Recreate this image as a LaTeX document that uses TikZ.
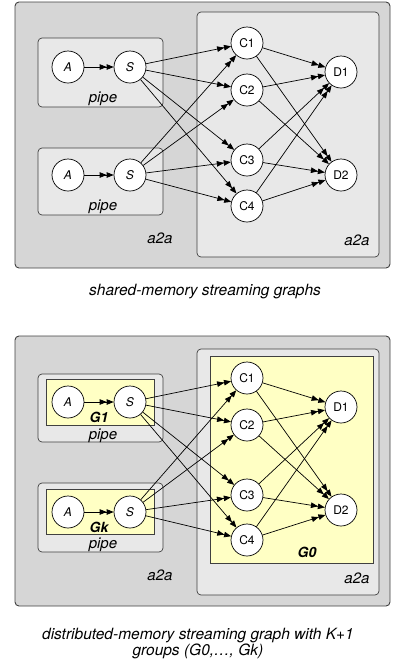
\documentclass[tikz,border=0pt]{standalone}
\usepackage{fontspec}
\setmainfont{TeX Gyre Heros}
\usetikzlibrary{arrows.meta}
\definecolor{outerg}{HTML}{D6D6D6}
\definecolor{innerg}{HTML}{E8E8E8}
\definecolor{yel}{HTML}{FFFFC4}
\tikzset{
  outerbox/.style={draw=black!75, fill=outerg, rounded corners=4pt, line width=0.9pt},
  innerbox/.style={draw=black!75, fill=innerg, rounded corners=4pt, line width=0.7pt},
  yelbox/.style={draw=black!75, fill=yel, line width=0.6pt},
  proc/.style={circle, draw=black, fill=white, minimum size=32pt, inner sep=0pt, line width=0.7pt, font=\fontsize{12}{14}\selectfont},
  lbl/.style={font=\fontsize{15}{17}\selectfont\itshape},
  glbl/.style={font=\fontsize{14}{16}\selectfont\bfseries\itshape},
  edge/.style={-{Triangle[length=7pt,width=5.5pt,sep=0pt]Triangle[length=7pt,width=5.5pt]}, line width=0.7pt},
  captext/.style={font=\fontsize{15.5}{16}\selectfont\itshape, align=center}
}
\begin{document}
\begin{tikzpicture}[x=1pt,y=-1pt]
\useasboundingbox (0,0) rectangle (392,665);
% ===== Top =====
\path[outerbox] (15,2) rectangle (390,268);
\path[innerbox] (38,38) rectangle (163,107);
\path[innerbox] (38,148) rectangle (163,215);
\path[innerbox] (197,12) rectangle (379,257);
\node[proc] (a1) at (68,67) {\itshape A};
\node[proc] (s1) at (130,67) {\itshape S};
\node[proc] (a2) at (68,175) {\itshape A};
\node[proc] (s2) at (130,175) {\itshape S};
\node[lbl] (p1) at (103,99) {pipe};
\node[lbl] (p2) at (103,207) {pipe};
\node[lbl] (l1) at (160,238) {a2a};
\node[lbl] (r1) at (357,240) {a2a};
\node[proc] (c1) at (247,43) {C1};
\node[proc] (c2) at (247,90) {C2};
\node[proc] (c3) at (247,160) {C3};
\node[proc] (c4) at (247,206) {C4};
\node[proc] (d1) at (341,72) {D1};
\node[proc] (d2) at (341,175) {D2};
\draw[edge] (a1) -- (s1);
\draw[edge] (a2) -- (s2);
\foreach \s in {s1,s2}{\foreach \c in {c1,c2,c3,c4}{\draw[edge] (\s) -- (\c);}}
\foreach \c in {c1,c2,c3,c4}{\foreach \d in {d1,d2}{\draw[edge] (\c) -- (\d);}}
\node[captext] (t1) at (205,292) {shared-memory streaming graphs};
% ===== Bottom =====
\path[outerbox] (15,336) rectangle (390,606);
\path[innerbox] (38,374) rectangle (163,442);
\path[yelbox] (46,379) rectangle (154,425);
\path[innerbox] (38,483) rectangle (163,552);
\path[yelbox] (46,489) rectangle (154,534);
\path[innerbox] (197,349) rectangle (379,595);
\path[yelbox] (210,356) rectangle (373,563);
\node[proc] (ba1) at (68,402) {\itshape A};
\node[proc] (bs1) at (130,402) {\itshape S};
\node[proc] (ba2) at (68,512) {\itshape A};
\node[proc] (bs2) at (130,512) {\itshape S};
\node[glbl] (g1) at (99,417) {G1};
\node[glbl] (gk) at (99,527) {Gk};
\node[lbl] (bp1) at (103,436) {pipe};
\node[lbl] (bp2) at (103,545) {pipe};
\node[lbl] (bl1) at (160,575) {a2a};
\node[lbl] (br1) at (357,578) {a2a};
\node[glbl] (g0) at (307,552) {G0};
\node[proc] (bc1) at (247,378) {C1};
\node[proc] (bc2) at (247,425) {C2};
\node[proc] (bc3) at (247,495) {C3};
\node[proc] (bc4) at (247,540) {C4};
\node[proc] (bd1) at (341,407) {D1};
\node[proc] (bd2) at (341,510) {D2};
\draw[edge] (ba1) -- (bs1);
\draw[edge] (ba2) -- (bs2);
\foreach \s in {bs1,bs2}{\foreach \c in {bc1,bc2,bc3,bc4}{\draw[edge] (\s) -- (\c);}}
\foreach \c in {bc1,bc2,bc3,bc4}{\foreach \d in {bd1,bd2}{\draw[edge] (\c) -- (\d);}}
\node[captext] (t2) at (198,644) {distributed-memory streaming graph with K+1\\groups (G0,\ldots, Gk)};
\end{tikzpicture}
\end{document}
